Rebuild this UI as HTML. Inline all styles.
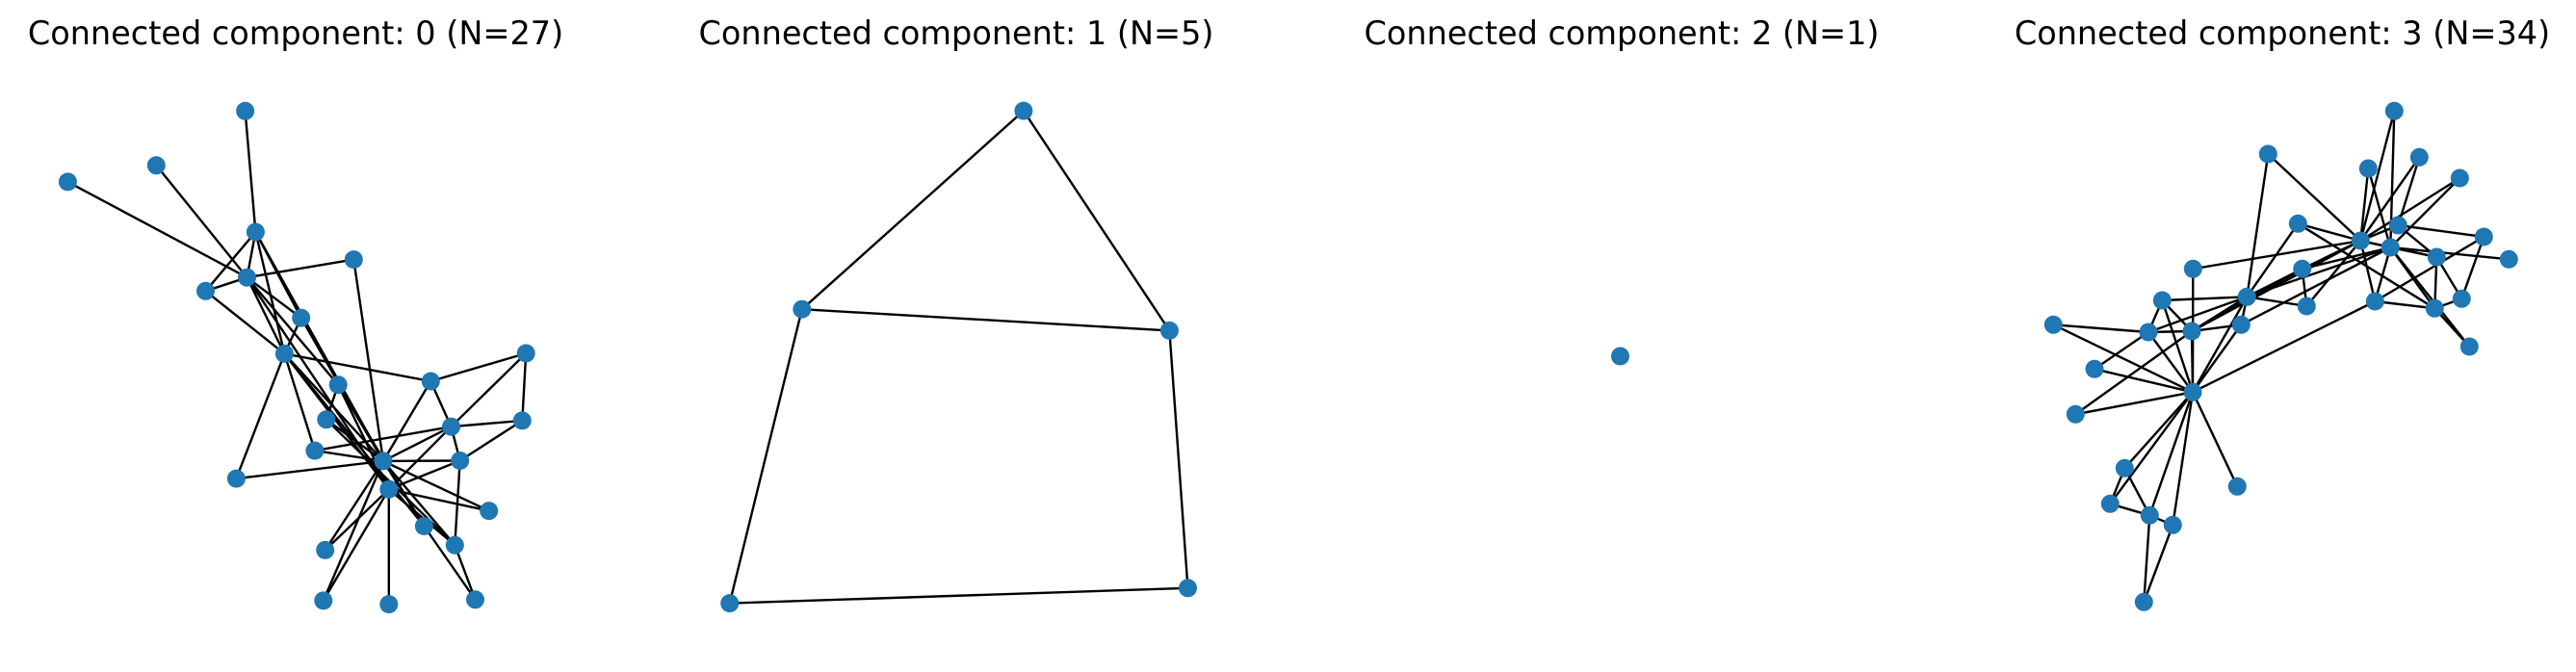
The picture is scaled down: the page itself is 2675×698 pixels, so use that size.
<!DOCTYPE html>
<html><head><meta charset="utf-8"><style>
html,body{margin:0;padding:0;background:#fff;}
svg{display:block;}
text{font-family:"DejaVu Sans","Liberation Sans",sans-serif;font-size:33.5px;fill:#000;}
line{stroke:#000;stroke-width:2.4;}
circle{fill:#1f77b4;}
</style></head><body>
<svg width="2675" height="698" viewBox="0 0 2675 698" xmlns="http://www.w3.org/2000/svg">
<text x="307" y="46" text-anchor="middle">Connected component: 0 (N=27)</text>
<text x="993" y="46" text-anchor="middle">Connected component: 1 (N=5)</text>
<text x="1684" y="46" text-anchor="middle">Connected component: 2 (N=1)</text>
<text x="2370" y="46" text-anchor="middle">Connected component: 3 (N=34)</text>

<g>
<line x1="254.6" y1="115.3" x2="265.4" y2="241"/>
<line x1="162.3" y1="171.8" x2="256.5" y2="288.2"/>
<line x1="70.4" y1="188.9" x2="256.5" y2="288.2"/>
<line x1="265.4" y1="241" x2="256.5" y2="288.2"/>
<line x1="265.4" y1="241" x2="213.5" y2="302.3"/>
<line x1="265.4" y1="241" x2="295.4" y2="367.4"/>
<line x1="265.4" y1="241" x2="312.7" y2="330.2"/>
<line x1="265.4" y1="241" x2="398" y2="478.9"/>
<line x1="256.5" y1="288.2" x2="367.3" y2="269.6"/>
<line x1="256.5" y1="288.2" x2="213.5" y2="302.3"/>
<line x1="256.5" y1="288.2" x2="312.7" y2="330.2"/>
<line x1="256.5" y1="288.2" x2="295.4" y2="367.4"/>
<line x1="256.5" y1="288.2" x2="351.2" y2="399.7"/>
<line x1="256.5" y1="288.2" x2="403.8" y2="508.2"/>
<line x1="213.5" y1="302.3" x2="295.4" y2="367.4"/>
<line x1="312.7" y1="330.2" x2="295.4" y2="367.4"/>
<line x1="312.7" y1="330.2" x2="398" y2="478.9"/>
<line x1="295.4" y1="367.4" x2="447.3" y2="396"/>
<line x1="295.4" y1="367.4" x2="245.4" y2="497.1"/>
<line x1="295.4" y1="367.4" x2="326.9" y2="468.1"/>
<line x1="295.4" y1="367.4" x2="398" y2="478.9"/>
<line x1="295.4" y1="367.4" x2="403.8" y2="508.2"/>
<line x1="295.4" y1="367.4" x2="440.4" y2="546.5"/>
<line x1="367.3" y1="269.6" x2="398" y2="478.9"/>
<line x1="351.2" y1="399.7" x2="338.8" y2="435.8"/>
<line x1="351.2" y1="399.7" x2="398" y2="478.9"/>
<line x1="351.2" y1="399.7" x2="403.8" y2="508.2"/>
<line x1="351.2" y1="399.7" x2="440.4" y2="546.5"/>
<line x1="546.2" y1="367" x2="447.3" y2="396"/>
<line x1="546.2" y1="367" x2="468.5" y2="443.2"/>
<line x1="546.2" y1="367" x2="542.3" y2="436.9"/>
<line x1="447.3" y1="396" x2="468.5" y2="443.2"/>
<line x1="447.3" y1="396" x2="398" y2="478.9"/>
<line x1="542.3" y1="436.9" x2="468.5" y2="443.2"/>
<line x1="542.3" y1="436.9" x2="477.7" y2="478.5"/>
<line x1="468.5" y1="443.2" x2="326.9" y2="468.1"/>
<line x1="468.5" y1="443.2" x2="398" y2="478.9"/>
<line x1="468.5" y1="443.2" x2="403.8" y2="508.2"/>
<line x1="468.5" y1="443.2" x2="477.7" y2="478.5"/>
<line x1="338.8" y1="435.8" x2="398" y2="478.9"/>
<line x1="338.8" y1="435.8" x2="472.3" y2="566.2"/>
<line x1="326.9" y1="468.1" x2="398" y2="478.9"/>
<line x1="245.4" y1="497.1" x2="398" y2="478.9"/>
<line x1="398" y1="478.9" x2="477.7" y2="478.5"/>
<line x1="398" y1="478.9" x2="507.7" y2="530.6"/>
<line x1="398" y1="478.9" x2="337.7" y2="571.4"/>
<line x1="398" y1="478.9" x2="335.8" y2="623.9"/>
<line x1="398" y1="478.9" x2="440.4" y2="546.5"/>
<line x1="398" y1="478.9" x2="472.3" y2="566.2"/>
<line x1="403.8" y1="508.2" x2="337.7" y2="571.4"/>
<line x1="403.8" y1="508.2" x2="335.8" y2="623.9"/>
<line x1="403.8" y1="508.2" x2="403.8" y2="627.6"/>
<line x1="403.8" y1="508.2" x2="507.7" y2="530.6"/>
<line x1="403.8" y1="508.2" x2="477.7" y2="478.5"/>
<line x1="403.8" y1="508.2" x2="472.3" y2="566.2"/>
<line x1="477.7" y1="478.5" x2="472.3" y2="566.2"/>
<line x1="440.4" y1="546.5" x2="493.5" y2="622.8"/>
<line x1="472.3" y1="566.2" x2="493.5" y2="622.8"/>
</g>
<g>
<circle cx="254.6" cy="115.3" r="9.5"/><circle cx="162.3" cy="171.8" r="9.5"/><circle cx="70.4" cy="188.9" r="9.5"/>
<circle cx="265.4" cy="241" r="9.5"/><circle cx="367.3" cy="269.6" r="9.5"/><circle cx="256.5" cy="288.2" r="9.5"/>
<circle cx="213.5" cy="302.3" r="9.5"/><circle cx="312.7" cy="330.2" r="9.5"/><circle cx="295.4" cy="367.4" r="9.5"/>
<circle cx="546.2" cy="367" r="9.5"/><circle cx="447.3" cy="396" r="9.5"/><circle cx="351.2" cy="399.7" r="9.5"/>
<circle cx="338.8" cy="435.8" r="9.5"/><circle cx="542.3" cy="436.9" r="9.5"/><circle cx="468.5" cy="443.2" r="9.5"/>
<circle cx="326.9" cy="468.1" r="9.5"/><circle cx="398" cy="478.9" r="9.5"/><circle cx="477.7" cy="478.5" r="9.5"/>
<circle cx="245.4" cy="497.1" r="9.5"/><circle cx="403.8" cy="508.2" r="9.5"/><circle cx="507.7" cy="530.6" r="9.5"/>
<circle cx="440.4" cy="546.5" r="9.5"/><circle cx="472.3" cy="566.2" r="9.5"/><circle cx="337.7" cy="571.4" r="9.5"/>
<circle cx="335.8" cy="623.9" r="9.5"/><circle cx="403.8" cy="627.6" r="9.5"/><circle cx="493.5" cy="622.8" r="9.5"/>
</g>

<g>
<line x1="1062.9" y1="115.1" x2="832.8" y2="321.2"/>
<line x1="1062.9" y1="115.1" x2="1214.4" y2="343.4"/>
<line x1="832.8" y1="321.2" x2="1214.4" y2="343.4"/>
<line x1="832.8" y1="321.2" x2="757.7" y2="626.6"/>
<line x1="1214.4" y1="343.4" x2="1233.5" y2="610.8"/>
<line x1="757.7" y1="626.6" x2="1233.5" y2="610.8"/>
</g>
<circle cx="1062.9" cy="115.1" r="9.5"/><circle cx="832.8" cy="321.2" r="9.5"/><circle cx="1214.4" cy="343.4" r="9.5"/>
<circle cx="757.7" cy="626.6" r="9.5"/><circle cx="1233.5" cy="610.8" r="9.5"/>

<circle cx="1682.5" cy="370" r="9.5"/>

<g>
<line x1="2486.3" y1="115.3" x2="2451.3" y2="250"/>
<line x1="2486.3" y1="115.3" x2="2482.3" y2="257"/>
<line x1="2355.3" y1="160" x2="2451.3" y2="250"/>
<line x1="2355.3" y1="160" x2="2333.3" y2="308.3"/>
<line x1="2512.3" y1="163.3" x2="2451.3" y2="250"/>
<line x1="2512.3" y1="163.3" x2="2490.3" y2="234"/>
<line x1="2459.3" y1="175" x2="2451.3" y2="250"/>
<line x1="2459.3" y1="175" x2="2482.3" y2="257"/>
<line x1="2554.3" y1="185" x2="2451.3" y2="250"/>
<line x1="2554.3" y1="185" x2="2482.3" y2="257"/>
<line x1="2386.3" y1="232.3" x2="2451.3" y2="250"/>
<line x1="2386.3" y1="232.3" x2="2333.3" y2="308.3"/>
<line x1="2386.3" y1="232.3" x2="2528.3" y2="320.3"/>
<line x1="2490.3" y1="234" x2="2451.3" y2="250"/>
<line x1="2490.3" y1="234" x2="2579.3" y2="246"/>
<line x1="2490.3" y1="234" x2="2530.3" y2="267"/>
<line x1="2579.3" y1="246" x2="2466.3" y2="313"/>
<line x1="2579.3" y1="246" x2="2556.3" y2="310.3"/>
<line x1="2451.3" y1="250" x2="2482.3" y2="257"/>
<line x1="2451.3" y1="250" x2="2277.3" y2="279.3"/>
<line x1="2451.3" y1="250" x2="2390.7" y2="279.3"/>
<line x1="2451.3" y1="250" x2="2333.3" y2="308.3"/>
<line x1="2451.3" y1="250" x2="2395.3" y2="318"/>
<line x1="2451.3" y1="250" x2="2276" y2="344"/>
<line x1="2451.3" y1="250" x2="2466.3" y2="313"/>
<line x1="2451.3" y1="250" x2="2530.3" y2="267"/>
<line x1="2482.3" y1="257" x2="2530.3" y2="267"/>
<line x1="2482.3" y1="257" x2="2605.3" y2="269.3"/>
<line x1="2482.3" y1="257" x2="2528.3" y2="320.3"/>
<line x1="2482.3" y1="257" x2="2466.3" y2="313"/>
<line x1="2482.3" y1="257" x2="2564.3" y2="360"/>
<line x1="2482.3" y1="257" x2="2333.3" y2="308.3"/>
<line x1="2482.3" y1="257" x2="2390.7" y2="279.3"/>
<line x1="2482.3" y1="257" x2="2327.3" y2="337.3"/>
<line x1="2530.3" y1="267" x2="2528.3" y2="320.3"/>
<line x1="2530.3" y1="267" x2="2556.3" y2="310.3"/>
<line x1="2466.3" y1="313" x2="2528.3" y2="320.3"/>
<line x1="2528.3" y1="320.3" x2="2556.3" y2="310.3"/>
<line x1="2528.3" y1="320.3" x2="2564.3" y2="360"/>
<line x1="2277.3" y1="279.3" x2="2277" y2="407.3"/>
<line x1="2390.7" y1="279.3" x2="2333.3" y2="308.3"/>
<line x1="2390.7" y1="279.3" x2="2395.3" y2="318"/>
<line x1="2390.7" y1="279.3" x2="2276" y2="344"/>
<line x1="2245.3" y1="312" x2="2333.3" y2="308.3"/>
<line x1="2245.3" y1="312" x2="2231" y2="345"/>
<line x1="2245.3" y1="312" x2="2276" y2="344"/>
<line x1="2245.3" y1="312" x2="2277" y2="407.3"/>
<line x1="2333.3" y1="308.3" x2="2395.3" y2="318"/>
<line x1="2333.3" y1="308.3" x2="2231" y2="345"/>
<line x1="2333.3" y1="308.3" x2="2276" y2="344"/>
<line x1="2333.3" y1="308.3" x2="2327.3" y2="337.3"/>
<line x1="2333.3" y1="308.3" x2="2277" y2="407.3"/>
<line x1="2132.3" y1="337.3" x2="2231" y2="345"/>
<line x1="2132.3" y1="337.3" x2="2277" y2="407.3"/>
<line x1="2231" y1="345" x2="2175" y2="383.3"/>
<line x1="2231" y1="345" x2="2276" y2="344"/>
<line x1="2231" y1="345" x2="2277" y2="407.3"/>
<line x1="2276" y1="344" x2="2327.3" y2="337.3"/>
<line x1="2276" y1="344" x2="2155.3" y2="430.3"/>
<line x1="2276" y1="344" x2="2277" y2="407.3"/>
<line x1="2327.3" y1="337.3" x2="2277" y2="407.3"/>
<line x1="2175" y1="383.3" x2="2277" y2="407.3"/>
<line x1="2155.3" y1="430.3" x2="2277" y2="407.3"/>
<line x1="2277" y1="407.3" x2="2466.3" y2="313"/>
<line x1="2277" y1="407.3" x2="2206.3" y2="486.3"/>
<line x1="2277" y1="407.3" x2="2191.3" y2="523.3"/>
<line x1="2277" y1="407.3" x2="2232.3" y2="535.3"/>
<line x1="2277" y1="407.3" x2="2256.3" y2="545.3"/>
<line x1="2277" y1="407.3" x2="2323.3" y2="505.3"/>
<line x1="2206.3" y1="486.3" x2="2191.3" y2="523.3"/>
<line x1="2206.3" y1="486.3" x2="2232.3" y2="535.3"/>
<line x1="2191.3" y1="523.3" x2="2232.3" y2="535.3"/>
<line x1="2232.3" y1="535.3" x2="2256.3" y2="545.3"/>
<line x1="2232.3" y1="535.3" x2="2226.3" y2="625.3"/>
<line x1="2256.3" y1="545.3" x2="2226.3" y2="625.3"/>
</g>
<g>
<circle cx="2486.3" cy="115.3" r="9.5"/><circle cx="2355.3" cy="160" r="9.5"/><circle cx="2512.3" cy="163.3" r="9.5"/>
<circle cx="2459.3" cy="175" r="9.5"/><circle cx="2554.3" cy="185" r="9.5"/><circle cx="2386.3" cy="232.3" r="9.5"/>
<circle cx="2490.3" cy="234" r="9.5"/><circle cx="2579.3" cy="246" r="9.5"/><circle cx="2451.3" cy="250" r="9.5"/>
<circle cx="2482.3" cy="257" r="9.5"/><circle cx="2530.3" cy="267" r="9.5"/><circle cx="2605.3" cy="269.3" r="9.5"/>
<circle cx="2277.3" cy="279.3" r="9.5"/><circle cx="2390.7" cy="279.3" r="9.5"/><circle cx="2333.3" cy="308.3" r="9.5"/>
<circle cx="2245.3" cy="312" r="9.5"/><circle cx="2395.3" cy="318" r="9.5"/><circle cx="2466.3" cy="313" r="9.5"/>
<circle cx="2528.3" cy="320.3" r="9.5"/><circle cx="2556.3" cy="310.3" r="9.5"/><circle cx="2564.3" cy="360" r="9.5"/>
<circle cx="2132.3" cy="337.3" r="9.5"/><circle cx="2231" cy="345" r="9.5"/><circle cx="2276" cy="344" r="9.5"/>
<circle cx="2327.3" cy="337.3" r="9.5"/><circle cx="2175" cy="383.3" r="9.5"/><circle cx="2277" cy="407.3" r="9.5"/>
<circle cx="2155.3" cy="430.3" r="9.5"/><circle cx="2206.3" cy="486.3" r="9.5"/><circle cx="2323.3" cy="505.3" r="9.5"/>
<circle cx="2191.3" cy="523.3" r="9.5"/><circle cx="2232.3" cy="535.3" r="9.5"/><circle cx="2256.3" cy="545.3" r="9.5"/>
<circle cx="2226.3" cy="625.3" r="9.5"/>
</g>
</svg>
</body></html>
